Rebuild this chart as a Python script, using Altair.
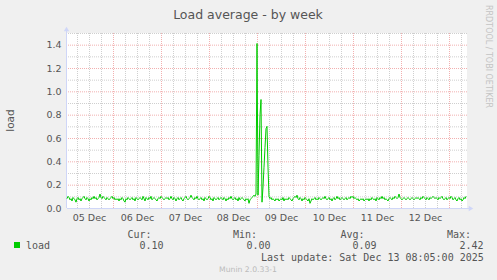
import altair as alt
import pandas as pd

# ---------------- data ----------------
title_text = "Load average - by week"
y_title = "load"
series_name = "load"
start_time = "2025-12-05 01:00"
end_time = "2025-12-13 09:00"

# 30-minute samples, in hundredths
load_pct = [
    8, 10, 9, 7, 8, 6, 9, 8, 7, 5, 8, 9, 7, 8, 6, 8, 9, 10, 8, 7, 9, 8, 6, 8, 7, 9, 8, 10, 8, 9, 7, 8, 9, 12, 9, 8, 10, 9, 8, 7, 9, 8, 7, 8, 9, 10, 8, 9, 7, 8,
    7, 8, 6, 8, 7, 9, 8, 6, 5, 8, 7, 9, 8, 7, 8, 9, 7, 8, 6, 9, 8, 7, 8, 9, 8, 7, 10, 8, 6, 9, 8, 7, 9, 8, 10, 7, 8, 9, 8, 7, 6, 8, 9, 8, 10, 9, 8, 7, 8, 9,
    8, 9, 7, 8, 10, 8, 7, 9, 8, 6, 8, 9, 7, 8, 9, 7, 6, 8, 9, 10, 8, 7, 8, 9, 11, 9, 8, 7, 9, 8, 10, 8, 7, 8, 9, 7, 8, 6, 9, 8, 7, 8, 10, 9, 7, 8, 6, 9, 8, 7,
    8, 9, 7, 8, 9, 8, 7, 9, 8, 6, 8, 7, 9, 8, 10, 8, 7, 8, 9, 7, 8, 6, 9, 7, 8, 9, 8, 7, 6, 8, 7, 8, 4, 7, 8, 9, 10, 11, 10, 12, 141, 11, 45, 80, 93, 5, 18, 35, 52, 68,
    70, 35, 10, 8, 9, 7, 8, 7, 6, 8, 7, 8, 6, 7, 8, 7, 9, 6, 8, 7, 8, 7, 9, 8, 7, 6, 8, 9, 10, 9, 11, 8, 7, 9, 8, 6, 8, 7, 9, 8, 7, 6, 8, 4, 6, 8, 7, 8, 9, 7,
    8, 7, 9, 8, 7, 8, 9, 8, 10, 8, 7, 8, 9, 7, 8, 6, 8, 9, 7, 8, 10, 8, 9, 7, 8, 9, 8, 7, 8, 9, 7, 8, 9, 8, 10, 9, 10, 8, 9, 8, 7, 8, 6, 7, 8, 7, 8, 6, 7, 8,
    7, 8, 6, 8, 7, 9, 8, 7, 8, 6, 9, 8, 7, 9, 8, 10, 8, 9, 7, 8, 7, 6, 8, 9, 8, 7, 9, 8, 10, 9, 8, 9, 12, 9, 8, 7, 8, 9, 8, 7, 8, 9, 8, 7, 8, 9, 8, 7, 8, 9,
    8, 9, 8, 7, 9, 8, 10, 9, 8, 7, 9, 8, 7, 9, 8, 9, 10, 9, 8, 9, 8, 7, 9, 8, 9, 10, 8, 7, 8, 9, 7, 8, 9, 8, 10, 9, 7, 8, 9, 7, 6, 8, 9, 7, 8, 6, 7, 9, 8, 10,
]
load = [v / 100 for v in load_pct]

y_ticks = [0.0, 0.2, 0.4, 0.6, 0.8, 1.0, 1.2, 1.4]
y_minor = [0.1, 0.3, 0.5, 0.7, 0.9, 1.1, 1.3, 1.5]
y_max = 1.5

stat_heads = ["Cur:", "Min:", "Avg:", "Max:"]
stat_vals = ["0.10", "0.00", "0.09", "2.42"]
last_update = "Last update: Sat Dec 13 08:05:00 2025"
watermark = "Munin 2.0.33-1"
side_text = "RRDTOOL / TOBI OETIKER"

# ---------------- tables ----------------
times = pd.date_range(start_time, periods=len(load), freq="30min")
df = pd.DataFrame({"time": times, "load": load})

six_h = pd.date_range("2025-12-05 06:00", "2025-12-13 06:00", freq="6h")
minor_x = pd.DataFrame({"t": [t for t in six_h if t.hour != 0]})
major_x = pd.DataFrame({"t": pd.date_range("2025-12-06", "2025-12-13", freq="D")})
minor_y = pd.DataFrame({"v": y_minor})
major_y = pd.DataFrame({"v": [v for v in y_ticks if v > 0]})
label_days = [alt.DateTime(year=2025, month=12, date=d, hours=12) for d in range(5, 13)]

W, H = 400, 175
L, T = 67, 33
FONT = "DejaVu Sans"
MONO = "DejaVu Sans Mono"
TXT = "#555555"
AXISC = "#CFD6F8"
GRID = "#CFCFCF"
MGRID = "#F2B0B0"

xscale = alt.Scale(
    domain=[alt.DateTime(year=2025, month=12, date=5, hours=1),
            alt.DateTime(year=2025, month=12, date=13, hours=9)]
)
yscale = alt.Scale(domain=[0, y_max], nice=False)

x_axis_def = alt.Axis(values=label_days, format="%d %b", title=None, domain=False,
                      ticks=False, grid=False, labelFont=FONT, labelFontSize=9.5,
                      labelColor=TXT, labelPadding=4, labelOverlap=False, labelFlush=False)
y_axis_def = alt.Axis(values=y_ticks, format=".1f", title=None, domain=False,
                      ticks=False, grid=False, labelFont=FONT, labelFontSize=9.5,
                      labelColor=TXT, labelPadding=6)

vgrid_minor = alt.Chart(minor_x).mark_rule(
    color=GRID, strokeWidth=1, strokeDash=[1, 1], xOffset=0.5
).encode(x=alt.X("t:T", scale=xscale, axis=x_axis_def))
vgrid_major = alt.Chart(major_x).mark_rule(
    color=MGRID, strokeWidth=1, strokeDash=[1, 1], xOffset=0.5
).encode(x=alt.X("t:T", scale=xscale, axis=x_axis_def))
hgrid_minor = alt.Chart(minor_y).mark_rule(
    color=GRID, strokeWidth=1, strokeDash=[1, 1], yOffset=0.5
).encode(y=alt.Y("v:Q", scale=yscale, axis=y_axis_def))
hgrid_major = alt.Chart(major_y).mark_rule(
    color=MGRID, strokeWidth=1, strokeDash=[1, 1], yOffset=0.5
).encode(y=alt.Y("v:Q", scale=yscale, axis=y_axis_def))

line = alt.Chart(df).mark_line(color="#00CC00", strokeWidth=1).encode(
    x=alt.X("time:T", scale=xscale, axis=x_axis_def),
    y=alt.Y("load:Q", scale=yscale, axis=y_axis_def),
)

one = pd.DataFrame({"k": [0]})


def txt(s, px, py, size, color=TXT, font=FONT, align="left", baseline="alphabetic", angle=0):
    return alt.Chart(one).mark_text(
        text=s, font=font, fontSize=size, color=color, align=align,
        baseline=baseline, angle=angle
    ).encode(x=alt.value(px - L), y=alt.value(py - T))


x_axis = alt.Chart(one).mark_rule(color=AXISC, strokeWidth=1).encode(
    x=alt.value(0), x2=alt.value(W + 2), y=alt.value(H + 0.5))
y_axis = alt.Chart(one).mark_rule(color=AXISC, strokeWidth=1).encode(
    x=alt.value(-0.5), y=alt.value(-3), y2=alt.value(H))
x_arrow = alt.Chart(one).mark_point(shape="triangle-right", filled=True, color=AXISC,
                                    size=28, opacity=1).encode(
    x=alt.value(W + 4), y=alt.value(H + 0.5))
y_arrow = alt.Chart(one).mark_point(shape="triangle-up", filled=True, color=AXISC,
                                    size=28, opacity=1).encode(
    x=alt.value(-0.5), y=alt.value(-4))

swatch = alt.Chart(one).mark_rect(color="#00CC00").encode(
    x=alt.value(14 - L), x2=alt.value(20 - L), y=alt.value(242 - T), y2=alt.value(248 - T))

texts = [
    txt(title_text, 248, 18.5, 12.5, align="center"),
    txt(y_title, 13.5, 120.5, 10.5, align="center", angle=270),
    txt(side_text, 486, 56.5, 8, color="#C4C4C4", align="center", baseline="alphabetic", angle=90),
    txt(series_name, 26, 248.5, 10, font=MONO),
    txt(last_update, 261, 261, 10, font=MONO),
    txt(watermark, 248, 272, 7.7, color="#BBBBBB", align="center"),
]
head_x = [127.5, 233, 340.5, 447]
val_x = [139.5, 246.5, 352.5, 459.5]
for h, hx in zip(stat_heads, head_x):
    texts.append(txt(h, hx, 237.5, 10, font=MONO))
for v, vx in zip(stat_vals, val_x):
    texts.append(txt(v, vx, 248.5, 10, font=MONO))

chart = alt.layer(
    vgrid_minor, hgrid_minor, vgrid_major, hgrid_major,
    x_axis, y_axis, x_arrow, y_arrow, line, swatch, *texts
).properties(
    width=W, height=H,
    autosize="none",
    padding={"left": L, "top": T, "right": 497 - L - W, "bottom": 280 - T - H},
    background="#F0F0F0",
).configure_view(fill="white", strokeWidth=0)

chart.save("out.html", embed_options={"renderer": "svg", "actions": False})
